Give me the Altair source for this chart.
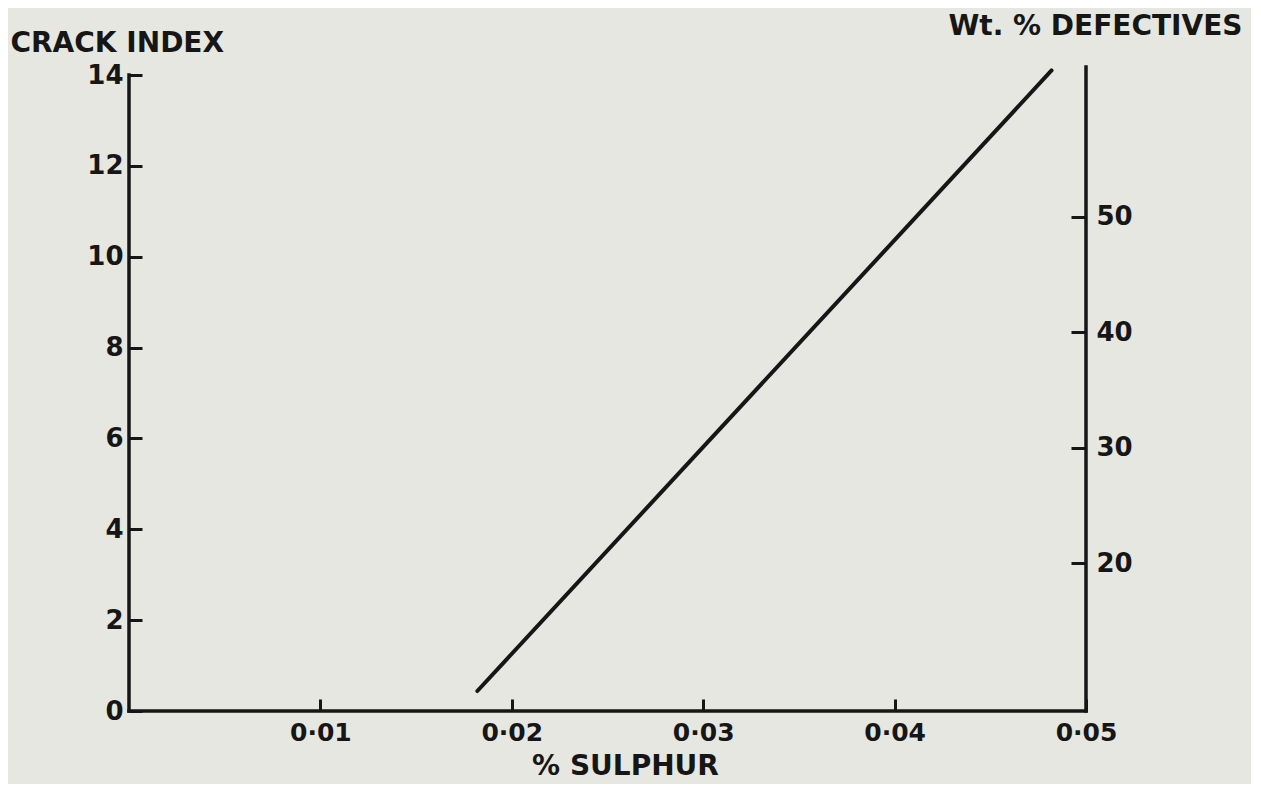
import altair as alt
import pandas as pd

# ---- values ----
sulphur_pct = [0.0182, 0.0482]          # % sulphur at the two ends of the line
crack_index = [0.44, 14.1]              # crack index at the two ends

x_tick_values = [0.01, 0.02, 0.03, 0.04, 0.05]
y_tick_values = [0, 2, 4, 6, 8, 10, 12, 14]
wt_tick_values = [20, 30, 40, 50]

x_domain = [0, 0.05]
y_domain = [0, 14]
wt_domain = [7.2, 62.3]
wt_axis_extent = [7.2, 63.0]

# ---- style ----
W, H = 957, 636
INK = "#161616"
BG = "#e6e7e0"
FONT = "DejaVu Sans"
WEIGHT = "bold"

line_df = pd.DataFrame({"sulphur": sulphur_pct, "crack": crack_index})
one_row = pd.DataFrame({"k": [0]})
wt_df = pd.DataFrame({"lo": [wt_axis_extent[0]], "hi": [wt_axis_extent[1]]})

x_axis = alt.Axis(
    values=x_tick_values, offset=-12, tickSize=12, tickWidth=3, tickColor=INK,
    domain=False, grid=False,
    labelExpr="replace(format(datum.value, '.2f'), '.', '·')",
    labelFont=FONT, labelFontSize=25, labelFontWeight=WEIGHT, labelColor=INK, labelPadding=9,
    labelFlush=False, labelOverlap=False,
    title="% SULPHUR", titleFont=FONT, titleFontSize=28, titleFontWeight=WEIGHT,
    titleColor=INK, titleX=496, titleY=67, titleAlign="center", titleBaseline="middle",
)

y_axis = alt.Axis(
    values=y_tick_values, offset=-13, tickSize=13, tickWidth=3, tickColor=INK,
    domain=False, grid=False, format="d",
    labelFont=FONT, labelFontSize=26, labelFontWeight=WEIGHT, labelColor=INK, labelPadding=6,
    labelFlush=False, labelOverlap=False,
    title="CRACK INDEX", titleFont=FONT, titleFontSize=28, titleFontWeight=WEIGHT,
    titleColor=INK, titleAngle=0, titleAlign="left", titleBaseline="middle",
    titleX=-132, titleY=-32,
)

wt_axis = alt.Axis(
    orient="right", values=wt_tick_values, offset=-15, tickSize=15, tickWidth=3,
    tickColor=INK, domain=False, grid=False, format="d",
    labelFont=FONT, labelFontSize=26, labelFontWeight=WEIGHT, labelColor=INK, labelPadding=10,
    labelFlush=False, labelOverlap=False,
    title="Wt. % DEFECTIVES", titleFont=FONT, titleFontSize=28, titleFontWeight=WEIGHT,
    titleColor=INK, titleAngle=0, titleAlign="right", titleBaseline="middle",
    titleX=171, titleY=-49,
)

line = alt.Chart(line_df).mark_line(color=INK, strokeWidth=4, strokeCap="round").encode(
    x=alt.X("sulphur:Q", scale=alt.Scale(domain=x_domain, nice=False, zero=False), axis=x_axis),
    y=alt.Y("crack:Q", scale=alt.Scale(domain=y_domain, nice=False, zero=False), axis=y_axis),
)

left_line = alt.Chart(one_row).mark_rule(color=INK, strokeWidth=3.5, strokeCap="square").encode(
    x=alt.value(0), y=alt.value(0), y2=alt.value(H)
)
bottom_line = alt.Chart(one_row).mark_rule(color=INK, strokeWidth=3.5, strokeCap="square").encode(
    x=alt.value(0), x2=alt.value(W), y=alt.value(H)
)

right_line = alt.Chart(wt_df).mark_rule(color=INK, strokeWidth=3.5, strokeCap="square").encode(
    x=alt.value(W),
    y=alt.Y("lo:Q", scale=alt.Scale(domain=wt_domain, nice=False, zero=False), axis=wt_axis),
    y2="hi:Q",
)

left_part = alt.layer(left_line, bottom_line, line)

chart = (
    alt.layer(left_part, right_line)
    .resolve_scale(y="independent")
    .properties(
        width=W, height=H,
        padding={"left": 121, "top": 67, "right": 165, "bottom": 73},
        autosize=alt.AutoSizeParams(type="none"),
        background=BG,
    )
    .configure_view(stroke=None)
)

chart.save("out.html", embed_options={"renderer": "svg", "actions": False})
